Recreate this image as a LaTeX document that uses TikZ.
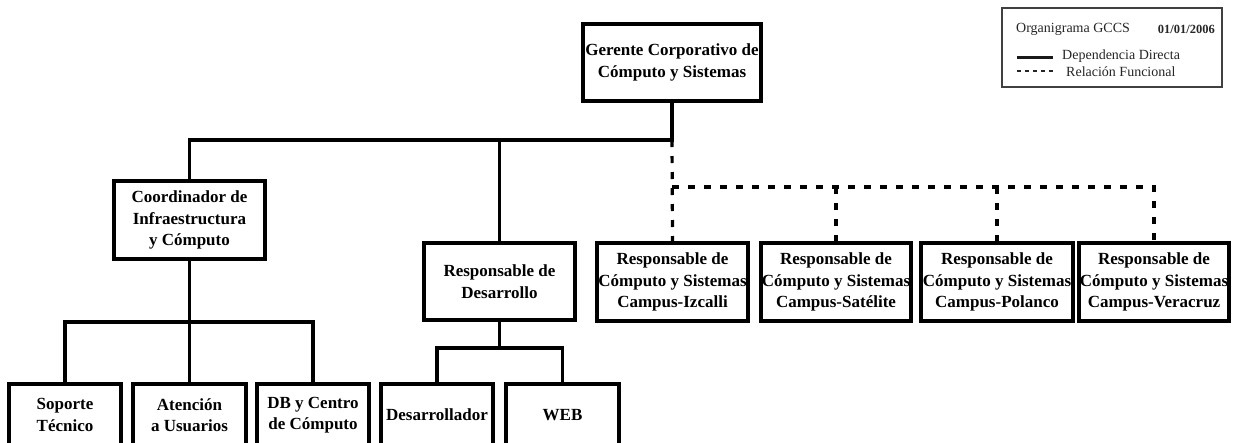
\documentclass[tikz,border=0pt]{standalone}
\usepackage{fontspec}
\setmainfont{Liberation Serif}
\begin{document}
\begin{tikzpicture}[x=1pt,y=-1pt,
  orgbox/.style={draw=black, fill=white, line width=3.8pt, rectangle, inner sep=0pt,
    align=center, font=\bfseries\fontsize{17}{21.5}\selectfont},
  conn/.style={line width=3.2pt, draw=black},
  func/.style={line width=3.2pt, draw=black, dash pattern=on 7pt off 9pt},
  legtext/.style={inner sep=0pt, text=black!85, font=\fontsize{14}{16}\selectfont}]
\clip (0,0) rectangle (1233,442);
\fill[white] (0,0) rectangle (1233,442);

% top level
\node[orgbox, minimum width=178, minimum height=77] (ger) at (672,62.5)
  {Gerente Corporativo de\\Cómputo y Sistemas};

% second level
\node[orgbox, minimum width=151, minimum height=78] (coord) at (189.5,220)
  {Coordinador de\\Infraestructura\\y Cómputo};
\node[orgbox, minimum width=151, minimum height=77] (desa) at (499.5,281.5)
  {Responsable de\\Desarrollo};

% campus heads
\node[orgbox, minimum width=151, minimum height=78] (izc) at (672.5,282)
  {Responsable de\\Cómputo y Sistemas\\Campus-Izcalli};
\node[orgbox, minimum width=150, minimum height=78] (sat) at (836,282)
  {Responsable de\\Cómputo y Sistemas\\Campus-Satélite};
\node[orgbox, minimum width=152, minimum height=78] (pol) at (997,282)
  {Responsable de\\Cómputo y Sistemas\\Campus-Polanco};
\node[orgbox, minimum width=150, minimum height=78] (ver) at (1154,282)
  {Responsable de\\Cómputo y Sistemas\\Campus-Veracruz};

% third level
\node[orgbox, minimum width=112, minimum height=62] (sop) at (65,415)
  {Soporte\\Técnico};
\node[orgbox, minimum width=113, minimum height=62] (ate) at (189.5,415)
  {Atención\\a Usuarios};
\node[orgbox, minimum width=112, minimum height=62] (db) at (313,415)
  {DB y Centro\\de Cómputo};
\node[orgbox, minimum width=112, minimum height=62] (dev) at (437,415)
  {Desarrollador};
\node[orgbox, minimum width=113, minimum height=62] (web) at (562.5,415)
  {WEB};

% junction points
\coordinate (hub) at (672,140);
\coordinate (fj) at (672,187);
\coordinate (cj) at (189.5,322);
\coordinate (dj) at (499.5,348);

% direct dependency
\draw[conn] (ger.south) -- (hub) -| (coord.north);
\draw[conn] (hub) -| (desa.north);
\draw[conn] (coord.south) -- (cj);
\draw[conn] (sop.north) |- (cj) -| (db.north);
\draw[conn] (cj) -- (ate.north);
\draw[conn] (desa.south) -- (dj);
\draw[conn] (dev.north) |- (dj) -| (web.north);

% functional relation
\draw[func] (hub) -- (izc.north);
\draw[func] (fj) -| (ver.north);
\draw[func] (sat.north |- fj) -- (sat.north);
\draw[func] (pol.north |- fj) -- (pol.north);

% legend
\node[draw=black!75, line width=1.2pt, minimum width=220, minimum height=79, inner sep=0pt]
  (leg) at (1112,47.5) {};
\node[legtext, anchor=west] (legtitle) at (1016,29) {Organigrama GCCS};
\node[legtext, anchor=east, font=\bfseries\fontsize{12.5}{14}\selectfont] (legdate) at (1215,29) {01/01/2006};
\coordinate (ls1) at (1017,57);
\coordinate (ls2) at (1053,57);
\coordinate (ld1) at (1017,71);
\coordinate (ld2) at (1053,71);
\draw[line width=3pt, black!90] (ls1) -- (ls2);
\draw[line width=1.5pt, black!85, dash pattern=on 4pt off 4pt] (ld1) -- (ld2);
\node[legtext, anchor=west] (legdir) at (1062,56) {Dependencia Directa};
\node[legtext, anchor=west] (legfun) at (1066,72) {Relación Funcional};
\end{tikzpicture}
\end{document}
